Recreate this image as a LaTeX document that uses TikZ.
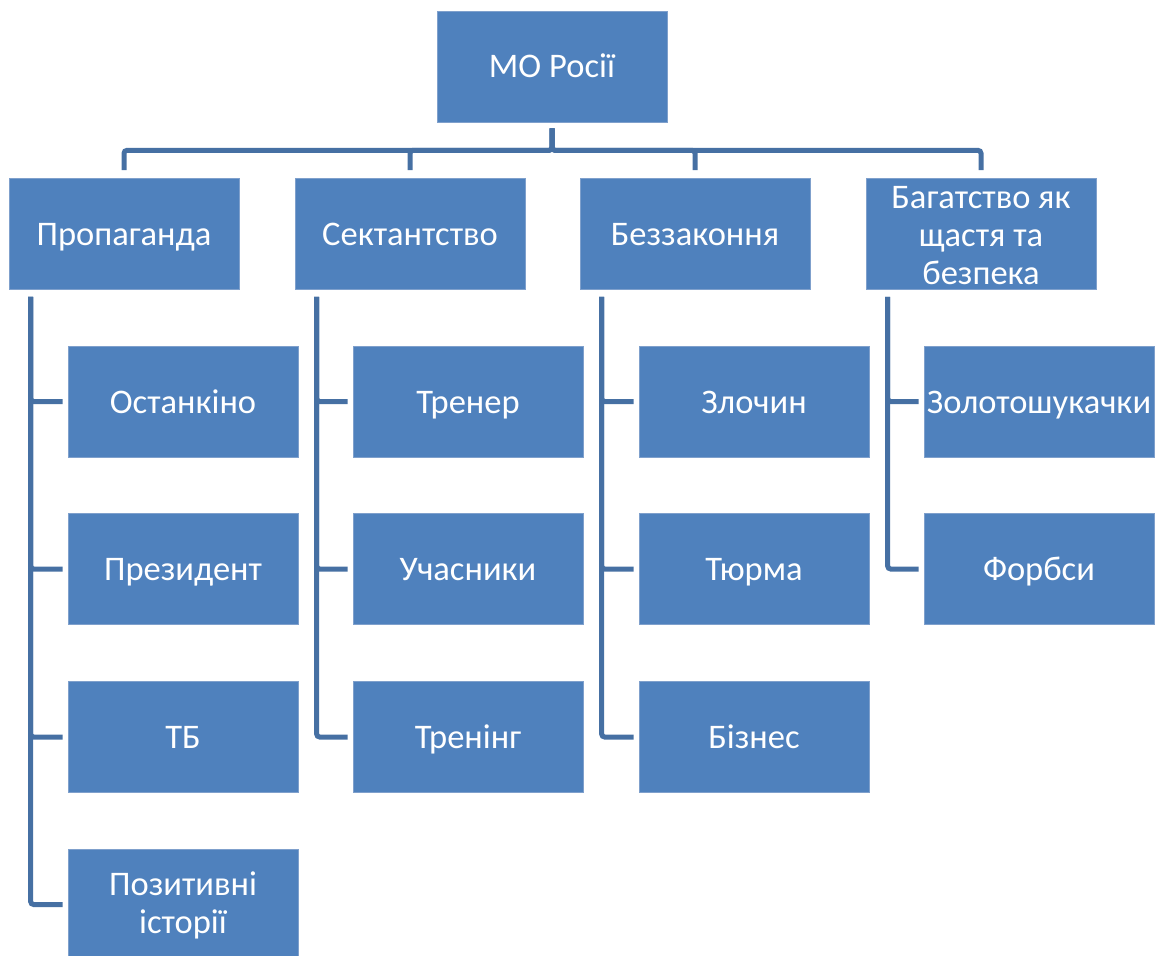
\documentclass[tikz,border=0pt]{standalone}
\usepackage{fontspec}
\setmainfont{Carlito}
\definecolor{boxfill}{HTML}{4F81BD}
\definecolor{boxedge}{HTML}{7FA0CC}
\definecolor{linec}{HTML}{4670A3}
\newcommand\topstrut{\rule{0pt}{32pt}}
\newcommand\botstrut{\rule[-9pt]{0pt}{9pt}}
\tikzset{
  orgbox/.style={rectangle, fill=boxfill, draw=boxedge, line width=0.7pt,
    minimum width=230pt, minimum height=111pt, inner sep=0pt,
    text=white, align=center, font=\fontsize{34.5}{38}\selectfont,
    execute at begin node=\topstrut, execute at end node=\botstrut},
  boxtext/.style={inner sep=0pt, text=white, align=center,
    font=\fontsize{34.5}{38}\selectfont},
  conn/.style={draw=linec, line width=5pt, rounded corners=3pt}
}
\begin{document}
\begin{tikzpicture}[x=1pt,y=1pt]
\useasboundingbox (0,0) rectangle (1158,-955);
\clip (0,0) rectangle (1158,-955);
\node[orgbox] (mo) at (552,-66.5) {МО Росії};
\node[orgbox] (p) at (124,-234) {Пропаганда};
\node[orgbox] (s) at (410,-234) {Сектантство};
\node[orgbox] (b) at (695,-234) {Беззаконня};
\node[orgbox] (g) at (981,-234) {};
\node[boxtext] (gtext) at ([yshift=-2pt]g.center) {Багатство як\\щастя та\\безпека};
% column 1
\node[orgbox] (p1) at (183,-401.5) {Останкіно};
\node[orgbox] (p2) at (183,-569) {Президент};
\node[orgbox] (p3) at (183,-737) {ТБ};
\node[orgbox] (p4) at (183,-904.5) {};
\node[boxtext] (p4text) at ([yshift=-1pt]p4.center) {Позитивні\\історії};
% column 2
\node[orgbox] (s1) at (468,-401.5) {Тренер};
\node[orgbox] (s2) at (468,-569) {Учасники};
\node[orgbox] (s3) at (468,-737) {Тренінг};
% column 3
\node[orgbox] (b1) at (754,-401.5) {Злочин};
\node[orgbox] (b2) at (754,-569) {Тюрма};
\node[orgbox] (b3) at (754,-737) {Бізнес};
% column 4
\node[orgbox] (g1) at (1039,-401.5) {Золотошукачки};
\node[orgbox] (g2) at (1039,-569) {Форбси};
% top connectors
\foreach \t in {p,s,b,g}{
  \draw[conn] ([yshift=-6pt]mo.south) -- ++(0,-22) -| ([yshift=8pt]\t.north);
}
% child connectors
\foreach \hd/\kids in {p/{p1,p2,p3,p4}, s/{s1,s2,s3}, b/{b1,b2,b3}, g/{g1,g2}}{
  \foreach \k in \kids {
    \draw[conn] ([xshift=22pt,yshift=-7pt]\hd.south west) |- ([xshift=-5pt]\k.west);
  }
}
\end{tikzpicture}
\end{document}
